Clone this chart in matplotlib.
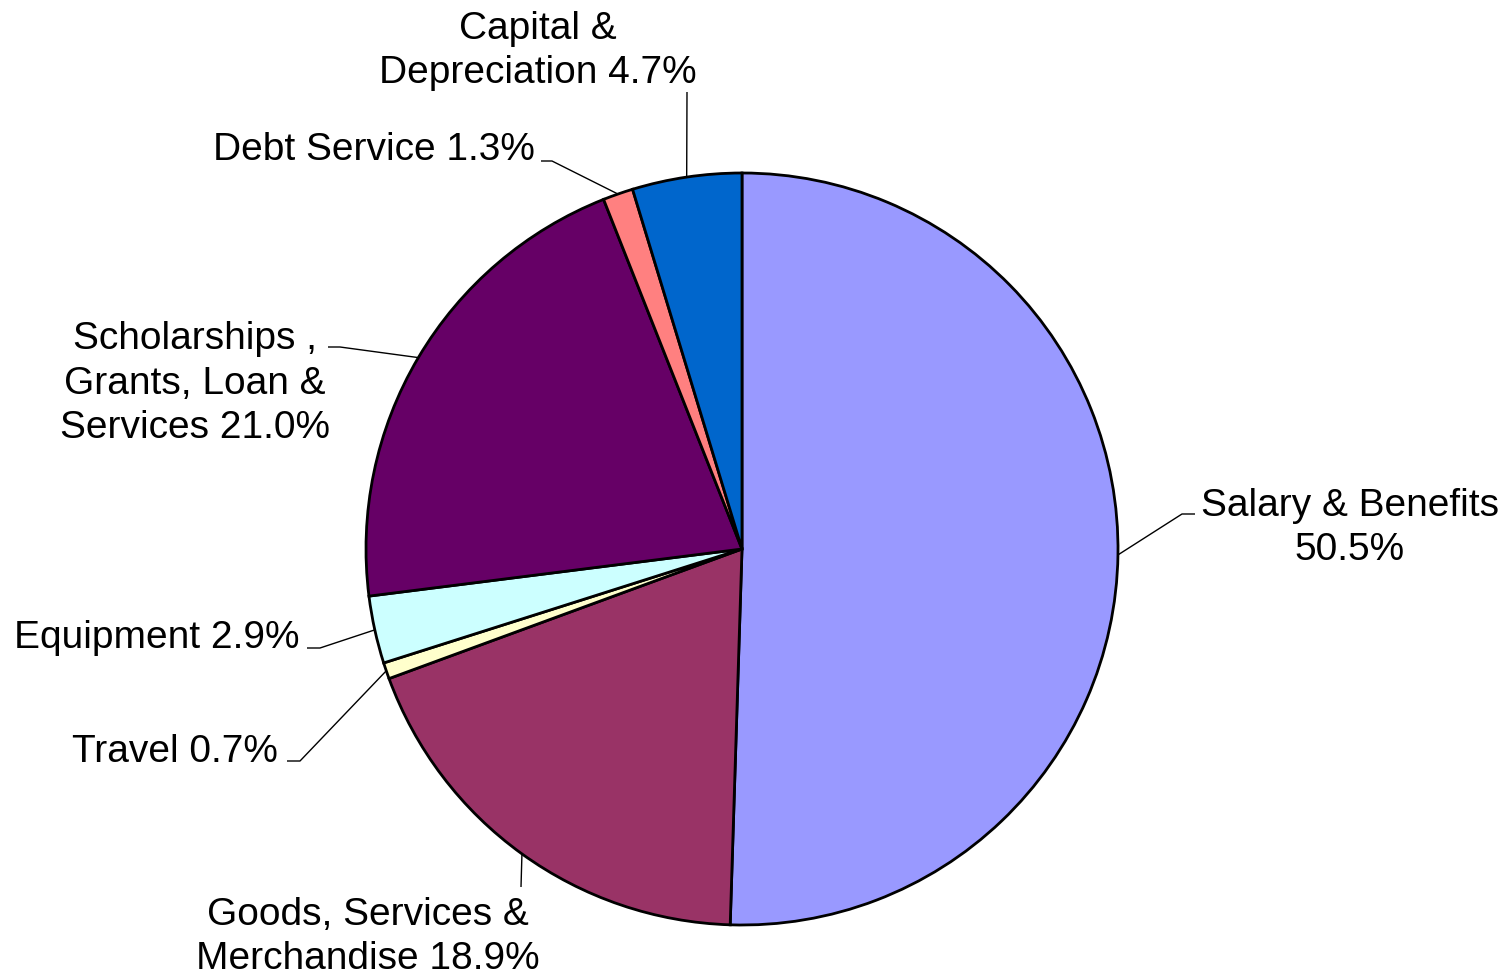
import numpy as np
import matplotlib.pyplot as plt

plt.rcParams["font.family"] = ["Liberation Sans", "DejaVu Sans"]

# budget shares, clockwise from 12 o'clock
categories = [
    "Salary & Benefits",
    "Goods, Services &\nMerchandise",
    "Travel",
    "Equipment",
    "Scholarships ,\nGrants, Loan &\nServices",
    "Debt Service",
    "Capital &\nDepreciation",
]
shares = [50.5, 18.9, 0.7, 2.9, 21.0, 1.3, 4.7]
colors = ["#9999FF", "#993366", "#FFFFCC", "#CCFFFF", "#660066", "#FF8080", "#0066CC"]
separators = ["\n", " ", " ", " ", " ", " ", " "]

# label placement (pixel coords, y from top, last-line baseline), leader elbow and end
text_pos = [(1350, 560), (368, 969), (278, 762), (300, 648), (195, 438), (535, 160), (538, 83)]
text_ha = ["center", "center", "right", "right", "center", "right", "center"]
leaders = [
    [(1182, 515), (1195, 515)],
    [(521, 888)],
    [(300, 762), (287, 762)],
    [(320, 649), (307, 649)],
    [(340, 348), (328, 348)],
    [(552, 162), (541, 162)],
    [(687, 93)],
]

W, H = 1511, 979
cx, cy, r = 742, 550, 376

fig = plt.figure(figsize=(W / 100, H / 100), dpi=100)
ax = fig.add_axes([0, 0, 1, 1])

wedges, _ = ax.pie(
    shares, colors=colors, startangle=-90, counterclock=True,
    center=(cx, cy), radius=r,
    wedgeprops=dict(edgecolor="black", linewidth=2.0),
)
ax.set_xlim(0, W)
ax.set_ylim(H, 0)
ax.set_aspect("auto")
ax.axis("off")

for w, cat, sep, val, (tx, ty), ha, path in zip(
        wedges, categories, separators, shares, text_pos, text_ha, leaders):
    mid = np.deg2rad((w.theta1 + w.theta2) / 2)
    ex, ey = cx + r * np.cos(mid), cy + r * np.sin(mid)
    xs = [ex] + [p[0] for p in path]
    ys = [ey] + [p[1] for p in path]
    ax.plot(xs, ys, color="black", linewidth=1.0, solid_capstyle="butt")
    ax.text(tx, ty, f"{cat}{sep}{val:.1f}%", ha=ha, va="baseline",
            multialignment="center", linespacing=1.3, fontsize=28, color="black")

fig.savefig("out.png", dpi=100)
